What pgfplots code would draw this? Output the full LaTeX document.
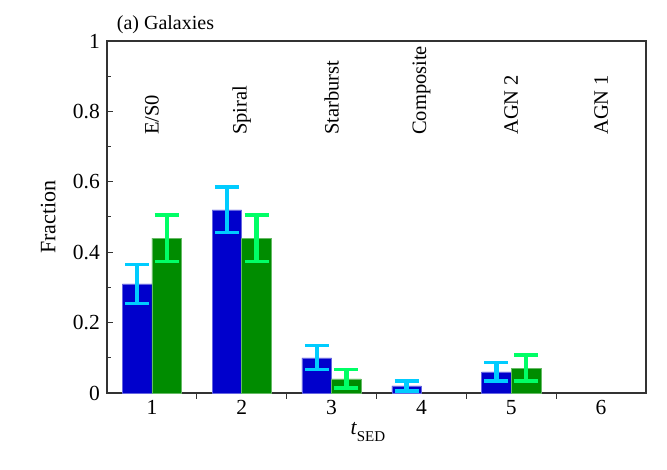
\documentclass[border=0pt]{standalone}
\usepackage{pgfplots}
\pgfplotsset{compat=1.18}
\usepackage{fontspec}
\setmainfont{Liberation Serif}
\definecolor{barblue}{RGB}{0,0,204}
\definecolor{bargreen}{RGB}{0,140,0}
\definecolor{errcyan}{RGB}{0,204,255}
\definecolor{errgreen}{RGB}{0,255,102}
\definecolor{axgray}{RGB}{51,51,51}
\begin{document}
\fontsize{21}{25}\selectfont
\begin{tikzpicture}
\path[use as bounding box] (-107pt,-77pt) rectangle (560pt,393pt);
\begin{axis}[
 at={(0,0)}, anchor=south west,
 scale only axis, width=539pt, height=352pt,
 xmin=0.5, xmax=6.5, ymin=0, ymax=1,
 clip=false,
 axis line style={axgray, line width=1.2pt},
 tick style={axgray, line width=1pt},
 tick align=inside, tick pos=left,
 xtick={1.5,2.5,3.5,4.5,5.5}, xticklabels={},
 extra x ticks={1,2,3,4,5,6},
 extra x tick style={major tick length=0pt},
 ytick={0,0.2,0.4,0.6,0.8,1}, minor y tick num=1,
 major tick length=6pt, minor tick length=4pt,
 ticklabel style={font=\fontsize{21.5}{25}\selectfont, text=black},
 /pgf/number format/assume math mode=true,
 xlabel={\textit{t}\raisebox{-0.3em}{\fontsize{15}{17}\selectfont SED}},
 xlabel style={at={(axis description cs:0.484,-0.111)}, anchor=center, font=\fontsize{21.5}{25}\selectfont},
 ylabel={Fraction},
 ylabel style={at={(axis description cs:-0.109,0.5)}, anchor=center, font=\fontsize{22}{25}\selectfont},
 ybar, bar width=0.33,
]
\addplot[ybar, bar width=0.33, bar shift=0, fill=barblue, draw=barblue!60!white, line width=0.5pt,
  error bars/.cd, y dir=both, y explicit,
  error bar style={errcyan, line width=4.3pt},
  error mark options={errcyan, line width=3.3pt, rotate=90, mark size=12pt}]
 coordinates {(0.835,0.31) +- (0,0.056) (1.835,0.52) +- (0,0.065) (2.835,0.10) +- (0,0.034) (3.835,0.02) +- (0,0.014) (4.835,0.06) +- (0,0.026)};
\addplot[ybar, bar width=0.33, bar shift=0, fill=bargreen, draw=bargreen!60!white, line width=0.5pt,
  error bars/.cd, y dir=both, y explicit,
  error bar style={errgreen, line width=4.3pt},
  error mark options={errgreen, line width=3.3pt, rotate=90, mark size=12pt}]
 coordinates {(1.165,0.44) +- (0,0.066) (2.165,0.44) +- (0,0.066) (3.165,0.04) +- (0,0.026) (5.165,0.071) +- (0,0.037)};
\begin{scope}[every node/.style={rotate=90, anchor=west, inner sep=0pt, font=\fontsize{20.5}{24}\selectfont}]
\node at (axis cs:1,0.733) {E/S0};
\node at (axis cs:2,0.733) {Spiral};
\node at (axis cs:3,0.733) {Starburst};
\node at (axis cs:4,0.733) {Composite};
\node at (axis cs:5,0.733) {AGN 2};
\node at (axis cs:6,0.733) {AGN 1};
\end{scope}
\node[anchor=base west, inner sep=0pt, font=\fontsize{20}{24}\selectfont, yshift=11pt] at (axis description cs:0.018,1) {(a) Galaxies};
\end{axis}
\end{tikzpicture}
\end{document}
